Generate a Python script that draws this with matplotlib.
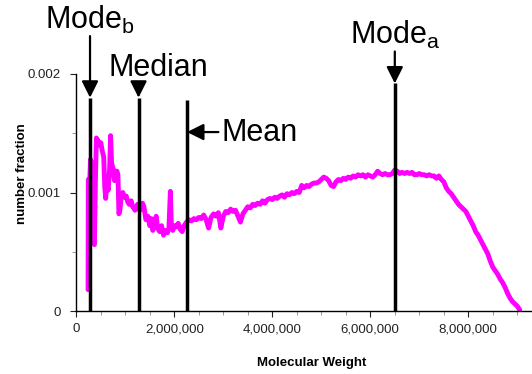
import matplotlib
matplotlib.use("Agg")
import matplotlib.pyplot as plt
from matplotlib.ticker import MultipleLocator, FuncFormatter
import numpy as np

plt.rcParams['font.family'] = ['Liberation Sans', 'DejaVu Sans']
plt.rcParams['mathtext.fontset'] = 'custom'
plt.rcParams['mathtext.rm'] = 'Liberation Sans'
plt.rcParams['mathtext.it'] = 'Liberation Sans'

# Molecular weight (millions) and number fraction (x 1e-3)
mw_millions = [
    0.24, 0.245, 0.27, 0.29, 0.31, 0.33, 0.35, 0.37, 0.39, 0.41, 0.44, 0.47, 0.50,
    0.53, 0.56, 0.58, 0.60, 0.62, 0.65, 0.68, 0.70, 0.72, 0.75, 0.78, 0.80, 0.83,
    0.85, 0.87, 0.89, 0.92, 0.95, 0.98, 1.02, 1.05, 1.08, 1.12, 1.15, 1.20, 1.25,
    1.30, 1.35, 1.38, 1.42, 1.46, 1.50, 1.53, 1.56, 1.60, 1.63, 1.66, 1.70, 1.74,
    1.78, 1.82, 1.86, 1.89, 1.92, 1.94, 1.97, 2.00, 2.04, 2.08, 2.12, 2.16, 2.20,
    2.25, 2.30, 2.35, 2.40, 2.45, 2.50, 2.55, 2.60, 2.65, 2.70, 2.75, 2.80, 2.85,
    2.90, 2.95, 3.00, 3.05, 3.10, 3.15, 3.20, 3.25, 3.30, 3.35, 3.40, 3.45, 3.50,
    3.55, 3.60, 3.65, 3.70, 3.75, 3.80, 3.85, 3.90, 3.95, 4.00, 4.05, 4.10, 4.15,
    4.20, 4.25, 4.30, 4.35, 4.40, 4.45, 4.50, 4.55, 4.60, 4.65, 4.70, 4.75, 4.80,
    4.85, 4.90, 4.95, 5.00, 5.05, 5.10, 5.15, 5.20, 5.25, 5.30, 5.35, 5.40, 5.45,
    5.50, 5.55, 5.60, 5.65, 5.70, 5.75, 5.80, 5.85, 5.90, 5.95, 6.00, 6.05, 6.10,
    6.15, 6.20, 6.25, 6.30, 6.35, 6.40, 6.45, 6.50, 6.55, 6.60, 6.65, 6.70, 6.75,
    6.80, 6.85, 6.90, 6.95, 7.00, 7.05, 7.10, 7.15, 7.20, 7.25, 7.30, 7.35, 7.40,
    7.45, 7.50, 7.55, 7.60, 7.65, 7.70, 7.75, 7.80, 7.85, 7.90, 7.95, 8.00, 8.05,
    8.10, 8.15, 8.20, 8.25, 8.30, 8.35, 8.40, 8.45, 8.50, 8.55, 8.60, 8.65, 8.70,
    8.75, 8.80, 8.85, 8.90, 8.95, 9.00, 9.05,
]
fraction_milli = [
    0.18, 1.11, 1.05, 1.28, 1.20, 1.25, 0.58, 0.56, 1.10, 1.46, 1.44, 1.40, 1.42,
    1.35, 1.30, 1.05, 0.95, 1.10, 1.02, 1.20, 1.48, 1.25, 1.20, 1.10, 1.18, 1.18,
    1.15, 0.82, 0.85, 0.98, 1.00, 0.96, 0.97, 0.92, 0.90, 0.93, 0.88, 0.85, 0.90,
    0.85, 0.91, 0.88, 0.77, 0.80, 0.72, 0.78, 0.68, 0.73, 0.80, 0.70, 0.67, 0.72,
    0.64, 0.68, 0.66, 0.70, 1.01, 0.72, 0.68, 0.72, 0.71, 0.74, 0.69, 0.67, 0.72,
    0.75, 0.77, 0.76, 0.78, 0.77, 0.79, 0.78, 0.81, 0.77, 0.70, 0.79, 0.82, 0.80,
    0.83, 0.70, 0.80, 0.84, 0.83, 0.86, 0.84, 0.85, 0.80, 0.75, 0.82, 0.85, 0.88,
    0.87, 0.90, 0.89, 0.91, 0.90, 0.93, 0.91, 0.94, 0.95, 0.94, 0.96, 0.95, 0.97,
    0.98, 0.96, 0.99, 0.98, 1.00, 0.99, 1.01, 1.00, 1.06, 1.04, 1.06, 1.05, 1.07,
    1.08, 1.08, 1.09, 1.11, 1.13, 1.12, 1.10, 1.06, 1.05, 1.09, 1.11, 1.10, 1.12,
    1.11, 1.13, 1.12, 1.14, 1.13, 1.15, 1.14, 1.15, 1.13, 1.15, 1.14, 1.13, 1.15,
    1.18, 1.16, 1.15, 1.16, 1.15, 1.15, 1.16, 1.19, 1.18, 1.16, 1.17, 1.16, 1.17,
    1.16, 1.17, 1.15, 1.15, 1.16, 1.15, 1.15, 1.14, 1.15, 1.14, 1.14, 1.12, 1.14,
    1.11, 1.09, 1.04, 1.01, 0.99, 0.96, 0.93, 0.90, 0.88, 0.86, 0.84, 0.80, 0.76,
    0.72, 0.67, 0.64, 0.60, 0.56, 0.52, 0.48, 0.42, 0.37, 0.34, 0.31, 0.27, 0.24,
    0.20, 0.15, 0.11, 0.08, 0.06, 0.04, 0.01,
]

# Statistics markers: (label, molecular weight, line top)
stat_names = ["Mode_b", "Median", "Mean", "Mode_a"]
stat_mw = [0.28e6, 1.27e6, 2.26e6, 6.5e6]
stat_top = [0.00180, 0.00180, 0.00178, 0.00192]

x_ticks = [0, 2e6, 4e6, 6e6, 8e6]
y_ticks = [0, 0.001, 0.002]
y_tick_labels = ["0", "0.001", "0.002"]

mw = np.array(mw_millions) * 1e6
frac = np.array(fraction_milli) * 1e-3

W, H = 532, 374
fig = plt.figure(figsize=(W / 100, H / 100), dpi=100)
ax = fig.add_axes([76.3 / W, 63 / H, 455.7 / W, 237 / H])

ax.plot(mw, frac, color='#ff00ff', lw=3.5, solid_joinstyle='round',
        solid_capstyle='round', zorder=2)

for x, top in zip(stat_mw, stat_top):
    ax.plot([x, x], [0, top], color='black', lw=2.5, solid_capstyle='butt', zorder=3)

ax.set_xlim(0, 9.3e6)
ax.set_ylim(0, 0.002)
ax.set_xticks(x_ticks)
ax.xaxis.set_major_formatter(FuncFormatter(lambda v, p: f"{v:,.0f}"))
ax.xaxis.set_minor_locator(MultipleLocator(0.5e6))
ax.set_yticks(y_ticks)
ax.set_yticklabels(y_tick_labels)
ax.yaxis.set_minor_locator(MultipleLocator(0.0005))

for s in ['top', 'right']:
    ax.spines[s].set_visible(False)
for s in ['left', 'bottom']:
    ax.spines[s].set_linewidth(1.0)

ax.tick_params(axis='both', which='major', labelsize=9.5, length=4, width=0.8,
               colors='#222222')
ax.tick_params(axis='y', which='major', pad=7)
ax.tick_params(axis='x', which='major', pad=5)
ax.tick_params(axis='both', which='minor', length=3, width=0.6, color='#888888')

ax.set_xlabel("Molecular Weight", fontsize=9.5, fontweight='bold')
ax.xaxis.set_label_coords(0.517, -0.195)
ax.set_ylabel("number fraction", fontsize=9.5, fontweight='bold')
ax.yaxis.set_label_coords(-0.105, 0.58)

arrow_kw = dict(arrowstyle='-|>,head_length=1.0,head_width=0.5', color='black',
                lw=1.6, shrinkA=0, shrinkB=0, mutation_scale=10)

# Mode_b
ax.annotate('', xy=(stat_mw[0], stat_top[0]), xytext=(stat_mw[0], 0.00232),
            arrowprops=arrow_kw, annotation_clip=False)
ax.text(-0.64e6, 0.00238, r"Mode$_{\mathrm{b}}$", fontsize=22, ha='left',
        va='baseline', clip_on=False)
# Median
ax.annotate('', xy=(stat_mw[1], stat_top[1]), xytext=(stat_mw[1], 0.00192),
            arrowprops=arrow_kw, annotation_clip=False)
ax.text(0.667e6, 0.00198, "Median", fontsize=22, ha='left', va='baseline',
        clip_on=False)
# Mean
ax.annotate('', xy=(stat_mw[2], 0.00151), xytext=(2.9e6, 0.00151),
            arrowprops=arrow_kw, annotation_clip=False)
ax.text(2.97e6, 0.001432, "Mean", fontsize=22, ha='left', va='baseline',
        clip_on=False)
# Mode_a
ax.annotate('', xy=(stat_mw[3], stat_top[3]), xytext=(stat_mw[3], 0.00219),
            arrowprops=arrow_kw, annotation_clip=False)
ax.text(5.58e6, 0.002254, r"Mode$_{\mathrm{a}}$", fontsize=22, ha='left',
        va='baseline', clip_on=False)

fig.savefig("out.png", dpi=100)
